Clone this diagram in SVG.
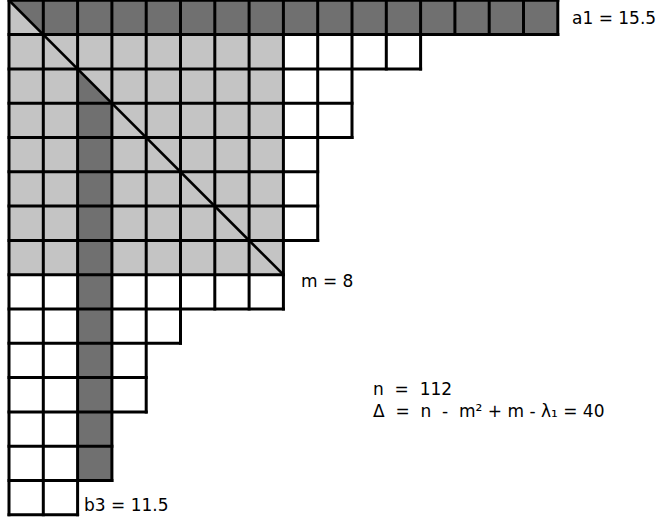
<svg xmlns="http://www.w3.org/2000/svg" width="658" height="522" viewBox="0 0 658 522">
<style>
.dark{fill:#707070}
.light{fill:#c4c4c4}
.grid{fill:none;stroke:#000;stroke-width:3;stroke-linecap:square}
.diag{fill:none;stroke:#000;stroke-width:2.6}
.lbl{font-family:"DejaVu Sans",sans-serif;font-size:17px;fill:#000}
</style>
<rect width="658" height="522" fill="#fff"/>
<g id="fills">
<rect class="dark" x="43.3" y="0.3" width="514.5" height="34.3"/>
<polygon class="dark" points="9,0.3 43.3,0.3 43.3,34.6"/>
<polygon class="light" points="9,0.3 9,34.6 43.3,34.6"/>
<rect class="light" x="9" y="34.6" width="274.4" height="240.1"/>
<polygon class="dark" points="77.6,68.9 77.6,103.2 111.9,103.2"/>
<rect class="dark" x="77.6" y="103.2" width="34.3" height="377.3"/>
</g>
<g id="grid">
<path class="grid" d="M9,0.3H557.8 M9,34.6H557.8 M9,68.9H420.6 M9,103.2H352 M9,137.5H352 M9,171.8H317.7 M9,206.1H317.7 M9,240.4H317.7 M9,274.7H283.4 M9,309H283.4 M9,343.3H180.5 M9,377.6H146.2 M9,411.9H146.2 M9,446.2H111.9 M9,480.5H111.9 M9,514.8H77.6"/>
<path class="grid" d="M9,0.3V514.8 M43.3,0.3V514.8 M77.6,0.3V514.8 M111.9,0.3V480.5 M146.2,0.3V411.9 M180.5,0.3V343.3 M214.8,0.3V309 M249.1,0.3V309 M283.4,0.3V309 M317.7,0.3V240.4 M352,0.3V137.5 M386.3,0.3V68.9 M420.6,0.3V68.9 M454.9,0.3V34.6 M489.2,0.3V34.6 M523.5,0.3V34.6 M557.8,0.3V34.6"/>
</g>
<g id="diagonal">
<line class="diag" x1="9" y1="0.3" x2="283.4" y2="274.7"/>
</g>
<g id="labels">
<text class="lbl" x="572" y="24">a1 = 15.5</text>
<text class="lbl" x="301" y="287">m = 8</text>
<text class="lbl" x="84" y="511">b3 = 11.5</text>
<text class="lbl" x="373" y="395" xml:space="preserve">n  =  112</text>
<text class="lbl" x="373" y="417" xml:space="preserve">Δ  =  n  -  m² + m - λ₁ = 40</text>
</g>
</svg>
